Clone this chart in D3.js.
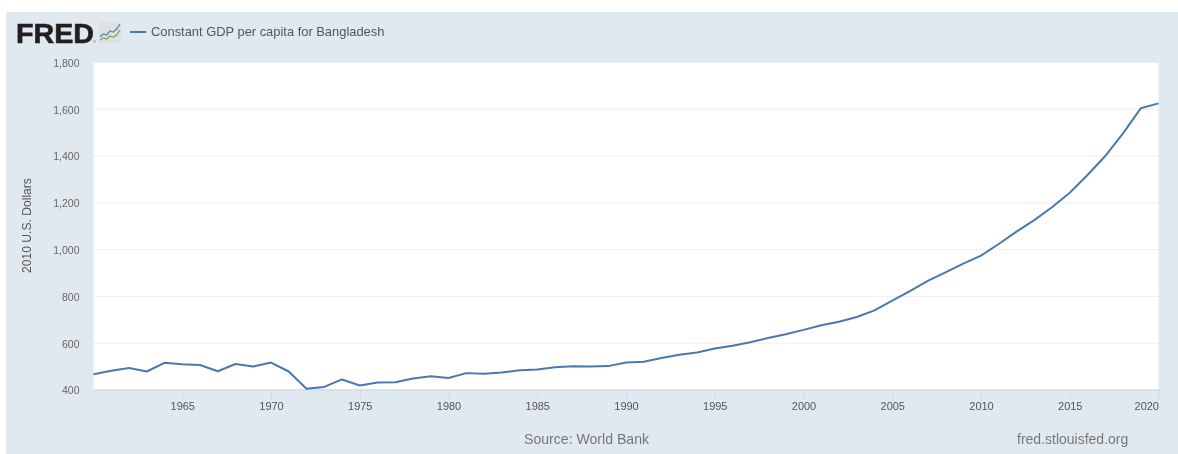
<!doctype html>
<html>
<head>
<meta charset="utf-8">
<title>Constant GDP per capita for Bangladesh</title>
<style>
    html, body { margin: 0; padding: 0; background: #fff; }
    /* the reference is a soft, upscaled screenshot */
    svg { display: block; font-family: "Liberation Sans", Arial, sans-serif; filter: blur(0.4px); }
</style>
</head>
<body>
<script src="https://d3js.org/d3.v7.min.js"></script>
<script>
    var seriesName = 'Constant GDP per capita for Bangladesh';
    var yTitle = '2010 U.S. Dollars';
    var sourceText = 'Source: World Bank';
    var siteText = 'fred.stlouisfed.org';

    var years = d3.range(1960, 2021);
    var gdp = [465, 480, 492, 477, 514, 508, 505, 478, 509, 498,
               515, 477, 403, 411, 443, 417, 430, 431, 447, 457,
               449, 470, 467, 473, 482, 485, 495, 499, 498, 500,
               515, 519, 535, 549, 558, 575, 587, 602, 620, 636,
               655, 675, 690, 710, 738, 780, 821, 864, 901, 938,
               972, 1022, 1075, 1124, 1179, 1241, 1317, 1398, 1495, 1602,
               1623];
    var yTicks = [400, 600, 800, 1000, 1200, 1400, 1600, 1800];
    var xTicks = [1965, 1970, 1975, 1980, 1985, 1990, 1995, 2000, 2005, 2010, 2015, 2020];

    var width = 1178, height = 454;
    var plot = {left: 93.5, right: 1158.5, top: 62, bottom: 389.5};

    var x = d3.scaleLinear().domain([1960, 2020]).range([plot.left, plot.right]);
    var y = d3.scaleLinear().domain([400, 1800]).range([plot.bottom, plot.top]);

    var svg = d3.select('body').append('svg')
        .attr('width', width)
        .attr('height', height);

    // panel + plot area
    svg.append('rect').attr('x', 6).attr('y', 12).attr('width', width - 6).attr('height', height - 12).attr('fill', '#e1e9f0');
    svg.append('rect').attr('x', plot.left).attr('y', plot.top)
        .attr('width', plot.right - plot.left).attr('height', plot.bottom - plot.top).attr('fill', '#fff');

    // y axis with gridlines
    var yAxis = svg.append('g')
        .attr('transform', 'translate(' + plot.left + ',0)')
        .call(d3.axisLeft(y).tickValues(yTicks).tickSize(0).tickPadding(14).tickFormat(d3.format(',')));
    yAxis.select('.domain').remove();
    yAxis.selectAll('text').attr('fill', '#666').attr('font-size', 10.5).attr('font-family', 'inherit').attr('dy', '0.42em');
    yAxis.selectAll('line')
        .attr('x2', plot.right - plot.left)
        .attr('stroke', '#eeeeee')
        .attr('stroke-width', 1);

    // x axis
    var xAxis = svg.append('g')
        .attr('transform', 'translate(0,' + plot.bottom + ')')
        .call(d3.axisBottom(x).tickValues(xTicks).tickSizeInner(9).tickSizeOuter(0).tickPadding(4).tickFormat(d3.format('d')));
    xAxis.select('.domain').attr('stroke', '#ccd6eb').attr('stroke-width', 1);
    xAxis.selectAll('line').attr('stroke', '#ccd6eb').attr('stroke-width', 1);
    xAxis.selectAll('text').attr('fill', '#555').attr('font-size', 11).attr('font-family', 'inherit');
    xAxis.selectAll('.tick').filter(function(d){ return d === 2020; }).select('text').attr('text-anchor', 'end');

    // series
    var line = d3.line().x(function(d, i){ return x(years[i]); }).y(function(d){ return y(d); });
    svg.append('path')
        .datum(gdp)
        .attr('d', line)
        .attr('fill', 'none')
        .attr('stroke', '#4a78b0')
        .attr('stroke-width', 2)
        .attr('stroke-linejoin', 'round');

    // y title
    svg.append('text')
        .attr('transform', 'translate(31,225.5) rotate(-90)')
        .attr('text-anchor', 'middle')
        .attr('fill', '#555')
        .attr('font-size', 12.1)
        .text(yTitle);

    // FRED logo
    svg.append('text')
        .attr('x', 16).attr('y', 43)
        .attr('font-size', 27)
        .attr('font-weight', 700)
        .attr('fill', '#231f20')
        .attr('stroke', '#231f20')
        .attr('stroke-width', 0.6)
        .attr('textLength', 78)
        .attr('lengthAdjust', 'spacingAndGlyphs')
        .text('FRED');
    svg.append('text').attr('x', 93).attr('y', 43).attr('font-size', 4).attr('fill', '#555').text('®');

    // logo icon
    var icon = svg.append('g').attr('transform', 'translate(99,22)');
    icon.append('rect').attr('width', 22).attr('height', 21).attr('fill', '#dde1e2');
    var iconX = [0, 1, 2, 3, 4, 5, 6];
    var iconBlue = [6, 9, 8, 12, 11, 14, 19];
    var iconGreen = [3, 5, 4, 7, 6, 8, 13];
    var ix = d3.scaleLinear().domain([0, 6]).range([1, 21]);
    var iy = d3.scaleLinear().domain([0, 21]).range([21, 0]);
    var iconLine = d3.line().x(function(d, i){ return ix(iconX[i]); }).y(function(d){ return iy(d); });
    icon.append('path').attr('d', iconLine(iconBlue)).attr('fill', 'none').attr('stroke', '#5b86b5').attr('stroke-width', 1.3);
    icon.append('path').attr('d', iconLine(iconGreen)).attr('fill', 'none').attr('stroke', '#7fa650').attr('stroke-width', 1.3);

    // legend
    svg.append('line').attr('x1', 130).attr('x2', 146).attr('y1', 32).attr('y2', 32)
        .attr('stroke', '#4a78b0').attr('stroke-width', 2);
    svg.append('text').attr('x', 151).attr('y', 36)
        .attr('font-size', 12.9).attr('fill', '#555').text(seriesName);

    // footer
    svg.append('text').attr('x', 524).attr('y', 444).attr('font-size', 14.1).attr('fill', '#777').text(sourceText);
    svg.append('text').attr('x', 1017).attr('y', 444).attr('font-size', 14).attr('fill', '#777').text(siteText);
</script>
</body>
</html>
